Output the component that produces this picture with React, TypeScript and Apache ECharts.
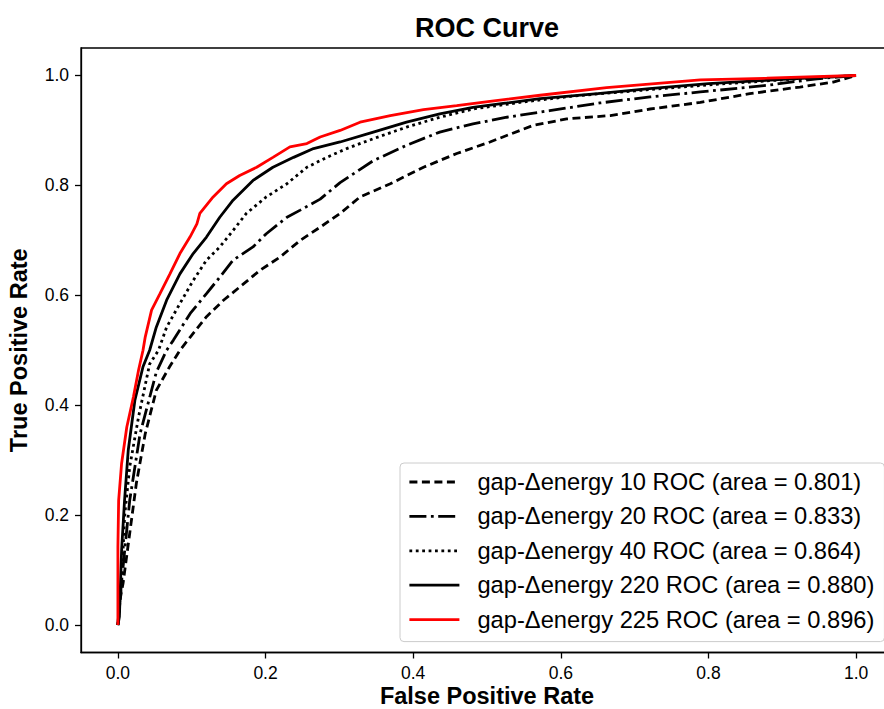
import React, { useEffect, useRef } from "react";
import * as echarts from "echarts";

const FONT = "'Liberation Sans', Arial, Helvetica, sans-serif";

const seriesNames = [
  "gap-Δenergy 10 ROC (area = 0.801)",
  "gap-Δenergy 20 ROC (area = 0.833)",
  "gap-Δenergy 40 ROC (area = 0.864)",
  "gap-Δenergy 220 ROC (area = 0.880)",
  "gap-Δenergy 225 ROC (area = 0.896)",
];

const tickValues = [0, 0.2, 0.4, 0.6, 0.8, 1.0];

const fpr10 = [0, 0.002, 0.007, 0.016, 0.025, 0.037, 0.052, 0.07, 0.084, 0.098, 0.12, 0.143, 0.165, 0.192, 0.22, 0.247, 0.274, 0.301, 0.328, 0.369, 0.414, 0.459, 0.504, 0.562, 0.608, 0.667, 0.721, 0.789, 0.856, 0.924, 0.969, 1.0];
const tpr10 = [0, 0.04, 0.076, 0.167, 0.258, 0.348, 0.427, 0.47, 0.5, 0.524, 0.561, 0.591, 0.615, 0.645, 0.67, 0.7, 0.724, 0.749, 0.779, 0.803, 0.833, 0.858, 0.879, 0.909, 0.921, 0.927, 0.939, 0.951, 0.967, 0.979, 0.988, 1.0];

const fpr20 = [0, 0.003, 0.007, 0.016, 0.03, 0.052, 0.066, 0.075, 0.098, 0.12, 0.138, 0.156, 0.183, 0.201, 0.229, 0.247, 0.274, 0.301, 0.346, 0.391, 0.436, 0.481, 0.527, 0.585, 0.653, 0.721, 0.789, 0.879, 0.947, 1.0];
const tpr20 = [0, 0.05, 0.106, 0.227, 0.348, 0.46, 0.5, 0.518, 0.567, 0.603, 0.633, 0.664, 0.688, 0.712, 0.742, 0.755, 0.775, 0.805, 0.845, 0.873, 0.897, 0.912, 0.924, 0.936, 0.95, 0.961, 0.97, 0.982, 0.994, 1.0];

const fpr40 = [0, 0.002, 0.005, 0.009, 0.016, 0.028, 0.043, 0.055, 0.066, 0.084, 0.102, 0.12, 0.138, 0.156, 0.174, 0.201, 0.229, 0.256, 0.283, 0.31, 0.346, 0.391, 0.436, 0.481, 0.55, 0.62, 0.7, 0.8, 0.9, 1.0];
const tpr40 = [0, 0.03, 0.076, 0.197, 0.288, 0.379, 0.475, 0.5, 0.542, 0.585, 0.627, 0.664, 0.688, 0.718, 0.749, 0.779, 0.803, 0.833, 0.851, 0.867, 0.885, 0.906, 0.924, 0.939, 0.952, 0.963, 0.972, 0.983, 0.992, 1.0];

const fpr220 = [0, 0.002, 0.005, 0.009, 0.014, 0.023, 0.034, 0.043, 0.052, 0.066, 0.084, 0.102, 0.12, 0.138, 0.156, 0.183, 0.21, 0.238, 0.265, 0.301, 0.346, 0.391, 0.436, 0.481, 0.527, 0.572, 0.65, 0.72, 0.8, 0.9, 1.0];
const tpr220 = [0, 0.015, 0.136, 0.227, 0.318, 0.409, 0.47, 0.5, 0.542, 0.591, 0.639, 0.676, 0.706, 0.742, 0.773, 0.809, 0.833, 0.851, 0.867, 0.879, 0.897, 0.915, 0.93, 0.942, 0.95, 0.958, 0.967, 0.976, 0.985, 0.993, 1.0];

const fpr225 = [0, 0.0, 0.001, 0.005, 0.012, 0.021, 0.028, 0.034, 0.037, 0.0456, 0.057, 0.0705, 0.084, 0.0976, 0.107, 0.111, 0.129, 0.147, 0.165, 0.188, 0.21, 0.233, 0.256, 0.274, 0.301, 0.328, 0.369, 0.414, 0.459, 0.504, 0.572, 0.662, 0.789, 0.879, 1.0];
const tpr225 = [0, 0.142, 0.227, 0.294, 0.36, 0.415, 0.464, 0.5, 0.524, 0.573, 0.603, 0.639, 0.676, 0.706, 0.73, 0.749, 0.779, 0.803, 0.818, 0.833, 0.851, 0.87, 0.876, 0.888, 0.9, 0.915, 0.927, 0.938, 0.945, 0.953, 0.964, 0.978, 0.992, 0.995, 1.0];

const curves = [
  { x: fpr10, y: tpr10, color: "#000000", dash: [8, 4.5] as any },
  { x: fpr20, y: tpr20, color: "#000000", dash: [17, 4.5, 2.8, 4.5] as any },
  { x: fpr40, y: tpr40, color: "#000000", dash: [2.8, 3.6] as any },
  { x: fpr220, y: tpr220, color: "#000000", dash: "solid" as any },
  { x: fpr225, y: tpr225, color: "#ff0000", dash: "solid" as any },
];

export default function App() {
  const ref = useRef<HTMLDivElement>(null);
  useEffect(() => {
    document.body.style.margin = "0";
    if (!ref.current) return;
    const chart = echarts.init(ref.current, undefined, { renderer: "svg" });
    const axisCommon = {
      type: "value" as const,
      min: -0.05,
      max: 1.05,
      splitLine: { show: false },
      axisLine: { show: true, onZero: false, lineStyle: { color: "#000", width: 1.3 } },
      axisTick: { show: true, inside: false, length: 6, customValues: tickValues, lineStyle: { color: "#000", width: 1.3 } },
      nameLocation: "middle" as const,
      nameMoveOverlap: false,
      nameTextStyle: { fontFamily: FONT, fontSize: 23.5, fontWeight: "bold" as const, color: "#000", lineHeight: 23 },
    };
    chart.setOption({
      animation: false,
      backgroundColor: "#ffffff",
      title: {
        text: "ROC Curve",
        left: 487,
        top: 14,
        padding: 0,
        textAlign: "center",
        textStyle: { fontFamily: FONT, fontSize: 27, fontWeight: "bold", color: "#000" },
      },
      grid: {
        left: 81,
        right: -9,
        top: 48,
        bottom: 56.5,
        show: true,
        borderColor: "#000",
        borderWidth: 1.3,
        backgroundColor: "transparent",
        containLabel: false,
        outerBoundsMode: "none",
      },
      xAxis: {
        ...axisCommon,
        name: "False Positive Rate",
        nameGap: 32,
        axisLabel: {
          customValues: tickValues,
          formatter: (v: number) => v.toFixed(1),
          fontFamily: FONT,
          fontSize: 17.5,
          color: "#000",
          margin: 11,
        },
      },
      yAxis: {
        ...axisCommon,
        name: "True Positive Rate",
        nameGap: 51,
        axisLabel: {
          customValues: tickValues,
          formatter: (v: number) => v.toFixed(1),
          fontFamily: FONT,
          fontSize: 17.5,
          color: "#000",
          margin: 12,
        },
      },
      legend: {
        data: seriesNames,
        orient: "vertical",
        left: 400,
        top: 463,
        padding: [7, 10, 10, 8],
        itemWidth: 50,
        itemHeight: 14,
        itemGap: 10.4,
        backgroundColor: "rgba(255,255,255,0.85)",
        borderColor: "#cccccc",
        borderWidth: 1,
        borderRadius: 4,
        itemStyle: { opacity: 0 },
        lineStyle: { width: 2.8 },
        textStyle: { fontFamily: FONT, fontSize: 23.7, color: "#000", lineHeight: 24, padding: [0, 0, 0, 13] },
      },
      series: curves.map((c, i) => ({
        name: seriesNames[i],
        type: "line",
        symbol: "none",
        showSymbol: false,
        smooth: false,
        clip: true,
        lineStyle: { color: c.color, width: 2.8, type: c.dash },
        itemStyle: { color: c.color },
        data: c.x.map((xv, j) => [xv, c.y[j]]),
      })),
    });
    return () => chart.dispose();
  }, []);
  return <div ref={ref} style={{ width: 884, height: 709 }} />;
}
